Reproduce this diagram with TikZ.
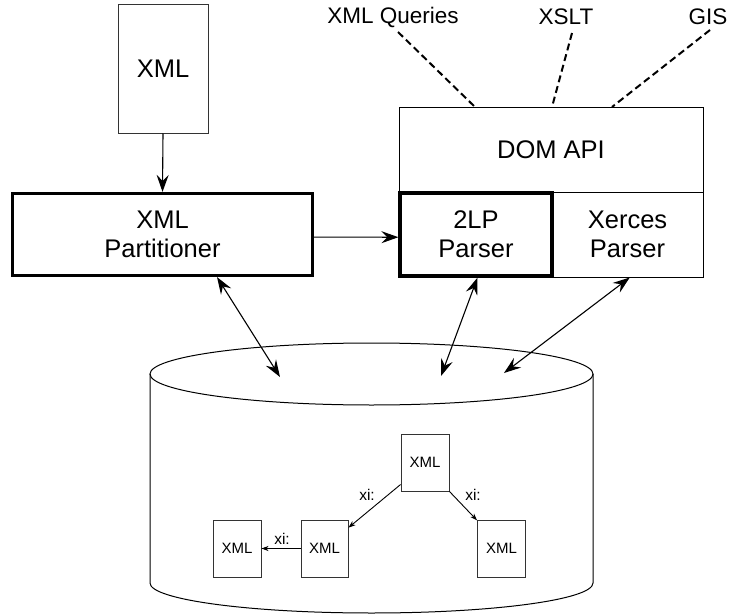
\documentclass[tikz,border=0pt]{standalone}
\usepackage{fontspec}
\setmainfont{Liberation Sans}
\usetikzlibrary{arrows.meta}
\begin{document}
\begin{tikzpicture}[x=1pt,y=-1pt,
  box/.style={draw, line width=1pt, inner sep=0pt, align=center, font=\fontsize{25.5}{29}\selectfont},
  thickbox/.style={box, line width=3.2pt},
  small/.style={draw=black!80, line width=0.9pt, minimum width=48pt, minimum height=57pt, inner sep=0pt, font=\fontsize{15}{18}\selectfont},
  lbl/.style={font=\fontsize{22.5}{27}\selectfont, inner sep=0pt},
  xi/.style={font=\fontsize{15.5}{18}\selectfont, inner sep=0pt},
  bigtip/.tip={Stealth[length=17pt,width=12pt,inset=6pt]},
  smalltip/.tip={Stealth[length=7pt,width=5pt,inset=2pt]},
  conn/.style={line width=1.1pt, -bigtip},
  biconn/.style={line width=1.1pt, bigtip-bigtip},
  sconn/.style={line width=0.9pt, -smalltip},
  dashline/.style={line width=2pt, dash pattern=on 7pt off 4pt}
]
\useasboundingbox (0,0) rectangle (729,616);

% top XML document
\node[box, minimum width=90pt, minimum height=129pt, draw=black!80] (xmltop) at (163,68.5) {XML};
% partitioner
\node[thickbox, minimum width=300pt, minimum height=82pt] (part) at (162.5,234.5) {XML\\Partitioner};

% DOM API stack
\node[box, minimum width=304pt, minimum height=85pt] (dom) at (551,149.5) {DOM API};
\node[box, minimum width=151pt, minimum height=85pt] (xerces) at (627.5,234.5) {Xerces\\Parser};
\node[thickbox, minimum width=152pt, minimum height=83pt] (twolp) at (476,234.5) {2LP\\Parser};

% top labels
\node[lbl] (lq) at (393,17) {XML Queries};
\node[lbl] (lx) at (566,17) {XSLT};
\node[lbl] (lg) at (708,17) {GIS};
\coordinate (q1) at (398,32);  \coordinate (q2) at (475,107);
\coordinate (x1) at (572,33);  \coordinate (x2) at (552,107);
\coordinate (g1) at (710,30);  \coordinate (g2) at (612,107);
\draw[dashline] (q1) -- (q2);
\draw[dashline] (x1) -- (x2);
\draw[dashline] (g1) -- (g2);

% connectors top
\draw[conn] (xmltop.south) -- (part.north);
\draw[conn] (part.-1) -- (twolp.182);

% cylinder (repository)
\draw[line width=1pt] (371.5,374) ellipse [x radius=221.5pt, y radius=31pt];
\draw[line width=1pt] (150,374) -- (150,583) arc[start angle=180, end angle=360, x radius=221.5pt, y radius=30pt] -- (593,374);

\coordinate (c1) at (280,377);
\coordinate (c2) at (441,376);
\coordinate (c3) at (504,373);
\draw[biconn] (part.-38.6) -- (c1);
\draw[biconn] (twolp.-88) -- (c2);
\draw[biconn] (xerces.-87) -- (c3);

% documents inside repository
\node[small] (dtop) at (425,462.5) {XML};
\node[small] (dleft) at (237,548.5) {XML};
\node[small, minimum width=47pt] (dmid) at (324.5,548.5) {XML};
\node[small] (dright) at (501.5,548.5) {XML};

\draw[sconn] (dtop.222) -- (dmid.41);
\draw[sconn] (dtop.south east) -- (dright.131.6);
\draw[sconn] (dmid.west) -- (dleft.east);

\node[xi] (x1l) at (367,495) {xi:};
\node[xi] (x2l) at (473,495) {xi:};
\node[xi] (x3l) at (282,539) {xi:};
\end{tikzpicture}
\end{document}
